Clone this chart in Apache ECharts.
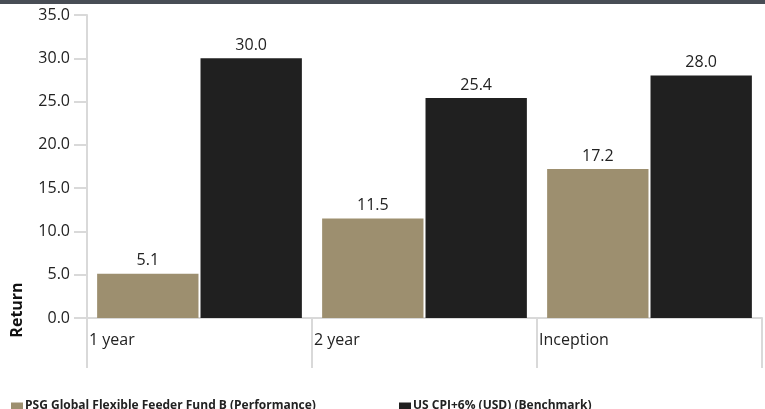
<!DOCTYPE html>
<html>
<head>
<meta charset="utf-8">
<script src="https://cdn.jsdelivr.net/npm/echarts@6/dist/echarts.min.js"></script>
<style>
    html, body { margin: 0; padding: 0; background: #ffffff; }
    #chart { width: 765px; height: 409px; }
</style>
</head>
<body>
<div id="chart"></div>
<script>
// periods and returns (%)
var categories = ['1 year', '2 year', 'Inception'];
var fundName = 'PSG Global Flexible Feeder Fund B (Performance)';
var benchName = 'US CPI+6% (USD) (Benchmark)';
var fundValues = [5.1, 11.5, 17.2];
var benchValues = [30.0, 25.4, 28.0];

var chart = echarts.init(document.getElementById('chart'));
var font = 'Open Sans';
var grey = '#d9d9d9';

chart.setOption({
    animation: false,
    textStyle: { fontFamily: font },
    grid: { left: 87, right: 0, top: 15, bottom: 91, containLabel: false },
    legend: [
        {
            left: 6, top: 395, itemWidth: 12, itemHeight: 7, itemGap: 0,
            icon: 'rect', data: [fundName],
            textStyle: { fontSize: 12, fontWeight: 'bold', color: '#222', padding: [0, 0, 0, -3] }
        },
        {
            left: 394, top: 395, itemWidth: 12, itemHeight: 7, itemGap: 0,
            icon: 'rect', data: [benchName],
            textStyle: { fontSize: 12, fontWeight: 'bold', color: '#222', padding: [0, 0, 0, -3] }
        }
    ],
    xAxis: [
        {
            type: 'category',
            data: categories,
            axisLine: { show: false },
            axisTick: { show: false },
            axisLabel: { show: false }
        },
        {
            // separators and left-aligned category labels
            type: 'value',
            min: 0, max: categories.length, interval: 1,
            position: 'bottom',
            splitLine: { show: false },
            axisLine: { show: true, lineStyle: { color: grey, width: 2 } },
            axisTick: { show: true, length: 50, lineStyle: { color: grey, width: 2 } },
            axisLabel: {
                align: 'left', margin: 14, fontSize: 16, color: '#222', padding: [0, 0, 0, 2],
                formatter: function (v) { return categories[v] || ''; },
                showMaxLabel: true
            }
        }
    ],
    yAxis: {
        type: 'value',
        min: 0, max: 35, interval: 5,
        splitLine: { show: false },
        axisLine: { show: true, lineStyle: { color: grey, width: 2 } },
        axisTick: { show: true, length: 13, lineStyle: { color: grey, width: 2 } },
        axisLabel: {
            margin: 17, fontSize: 16, color: '#222',
            formatter: function (v) { return v.toFixed(1); }
        }
    },
    graphic: [
        { type: 'rect', left: 0, top: 0, shape: { width: 765, height: 4 }, style: { fill: '#484d55' } },
        {
            type: 'text', x: 17, y: 310, rotation: Math.PI / 2,
            style: {
                text: 'Return', fontFamily: font, fontSize: 16, fontWeight: 'bold', fill: '#111',
                align: 'center', verticalAlign: 'middle'
            }
        }
    ],
    series: [
        {
            name: fundName, type: 'bar', xAxisIndex: 0, data: fundValues,
            barCategoryGap: '9%', barGap: '2%',
            itemStyle: { color: '#9d8f6f' },
            label: {
                show: true, position: 'top', distance: 5, fontSize: 16, color: '#222',
                formatter: function (p) { return p.value.toFixed(1); }
            }
        },
        {
            name: benchName, type: 'bar', xAxisIndex: 0, data: benchValues,
            itemStyle: { color: '#202020' },
            label: {
                show: true, position: 'top', distance: 5, fontSize: 16, color: '#222',
                formatter: function (p) { return p.value.toFixed(1); }
            }
        }
    ]
});
</script>
</body>
</html>
